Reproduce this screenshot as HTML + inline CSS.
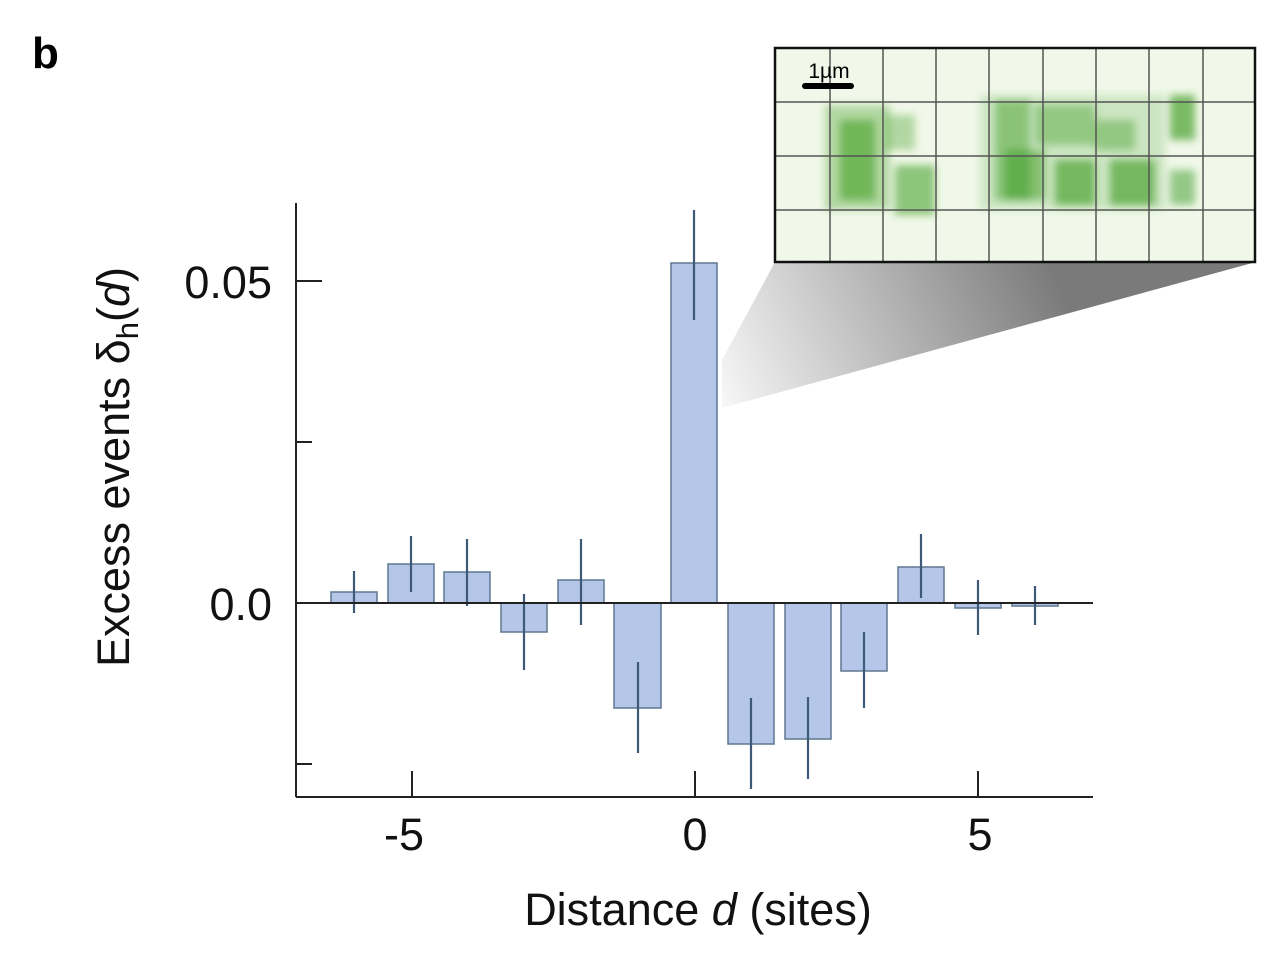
<!DOCTYPE html>
<html><head><meta charset="utf-8"><style>
html,body{margin:0;padding:0;background:#fff}
svg{display:block;font-family:"Liberation Sans",Arial,sans-serif}
</style></head><body>
<svg width="1280" height="963" viewBox="0 0 1280 963" xmlns="http://www.w3.org/2000/svg">
<defs>
<linearGradient id="wg" x1="720" y1="400" x2="1050" y2="262" gradientUnits="userSpaceOnUse">
<stop offset="0" stop-color="#f7f7f7"/><stop offset="1" stop-color="#7a7a7a"/>
</linearGradient>
<filter id="bl"><feGaussianBlur stdDeviation="4"/></filter>
<clipPath id="ic"><rect x="775" y="48" width="480" height="214"/></clipPath>
</defs>
<text x="32" y="68" font-size="44" font-weight="bold">b</text>
<polygon points="775,262 1256,262 722,408 722,360" fill="url(#wg)"/>
<rect x="775" y="48" width="480" height="214" fill="#f1f8ea"/>
<g clip-path="url(#ic)" filter="url(#bl)" fill="#3a9a1e">
<rect x="825" y="105" width="65" height="105" opacity="0.35"/>
<rect x="840" y="120" width="35" height="80" opacity="0.55"/>
<rect x="885" y="115" width="30" height="35" opacity="0.35"/>
<rect x="895" y="165" width="40" height="50" opacity="0.55"/>
<rect x="980" y="95" width="185" height="115" opacity="0.2"/>
<rect x="995" y="100" width="35" height="100" opacity="0.45"/>
<rect x="1005" y="150" width="40" height="50" opacity="0.5"/>
<rect x="1035" y="105" width="60" height="40" opacity="0.4"/>
<rect x="1055" y="160" width="40" height="45" opacity="0.6"/>
<rect x="1095" y="120" width="40" height="30" opacity="0.4"/>
<rect x="1110" y="160" width="45" height="45" opacity="0.6"/>
<rect x="1170" y="95" width="25" height="45" opacity="0.65"/>
<rect x="1170" y="170" width="25" height="35" opacity="0.5"/>
</g>
<g stroke="#555" stroke-width="1.5">
<line x1="830" y1="48" x2="830" y2="262"/><line x1="883" y1="48" x2="883" y2="262"/>
<line x1="936" y1="48" x2="936" y2="262"/><line x1="989" y1="48" x2="989" y2="262"/>
<line x1="1043" y1="48" x2="1043" y2="262"/><line x1="1096" y1="48" x2="1096" y2="262"/>
<line x1="1149" y1="48" x2="1149" y2="262"/><line x1="1203" y1="48" x2="1203" y2="262"/>
<line x1="775" y1="102" x2="1255" y2="102"/><line x1="775" y1="156" x2="1255" y2="156"/>
<line x1="775" y1="210" x2="1255" y2="210"/>
</g>
<rect x="775" y="48" width="480" height="214" fill="none" stroke="#111" stroke-width="2.5"/>
<rect x="802" y="83" width="52" height="6" rx="3" fill="#000"/>
<text x="829" y="78" font-size="21" text-anchor="middle">1µm</text>
<g fill="#b4c7e9" stroke="#5f7690" stroke-width="1.5">
<rect x="331" y="592" width="46" height="11"/>
<rect x="388" y="564" width="46" height="39"/>
<rect x="444" y="572" width="46" height="31"/>
<rect x="501" y="603" width="46" height="29"/>
<rect x="558" y="580" width="46" height="23"/>
<rect x="614" y="603" width="47" height="105"/>
<rect x="671" y="263" width="46" height="340"/>
<rect x="728" y="603" width="46" height="141"/>
<rect x="785" y="603" width="46" height="136"/>
<rect x="841" y="603" width="46" height="68"/>
<rect x="898" y="567" width="46" height="36"/>
<rect x="955" y="603" width="46" height="5"/>
<rect x="1012" y="603" width="46" height="3"/>
</g>
<g stroke="#3f5a78" stroke-width="2.2">
<line x1="354" y1="571" x2="354" y2="613"/>
<line x1="411" y1="536" x2="411" y2="592"/>
<line x1="467" y1="539" x2="467" y2="606"/>
<line x1="524" y1="594" x2="524" y2="670"/>
<line x1="581" y1="539" x2="581" y2="625"/>
<line x1="638" y1="662" x2="638" y2="753"/>
<line x1="694" y1="210" x2="694" y2="320"/>
<line x1="751" y1="698" x2="751" y2="789"/>
<line x1="808" y1="697" x2="808" y2="779"/>
<line x1="864" y1="632" x2="864" y2="708"/>
<line x1="921" y1="534" x2="921" y2="598"/>
<line x1="978" y1="580" x2="978" y2="635"/>
<line x1="1035" y1="586" x2="1035" y2="625"/>
</g>
<g stroke="#222" stroke-width="2">
<line x1="296" y1="203" x2="296" y2="797"/>
<line x1="296" y1="797" x2="1093" y2="797"/>
<line x1="296" y1="603" x2="1093" y2="603"/>
<line x1="296" y1="281" x2="322" y2="281"/>
<line x1="296" y1="442" x2="312" y2="442"/>
<line x1="296" y1="764" x2="312" y2="764"/>
<line x1="412" y1="797" x2="412" y2="771"/>
<line x1="695" y1="797" x2="695" y2="771"/>
<line x1="978" y1="797" x2="978" y2="771"/>
</g>
<g font-size="45" fill="#111">
<text x="272" y="298" text-anchor="end">0.05</text>
<text x="272" y="620" text-anchor="end">0.0</text>
<text x="404" y="850" text-anchor="middle">-5</text>
<text x="695" y="850" text-anchor="middle">0</text>
<text x="980" y="850" text-anchor="middle">5</text>
<text x="698" y="925" text-anchor="middle">Distance <tspan font-style="italic">d</tspan> (sites)</text>
<text transform="translate(129,467) rotate(-90)" text-anchor="middle">Excess events δ<tspan font-size="31" dy="9">h</tspan><tspan dy="-9">(</tspan><tspan font-style="italic">d</tspan>)</text>
</g>
</svg>
</body></html>
